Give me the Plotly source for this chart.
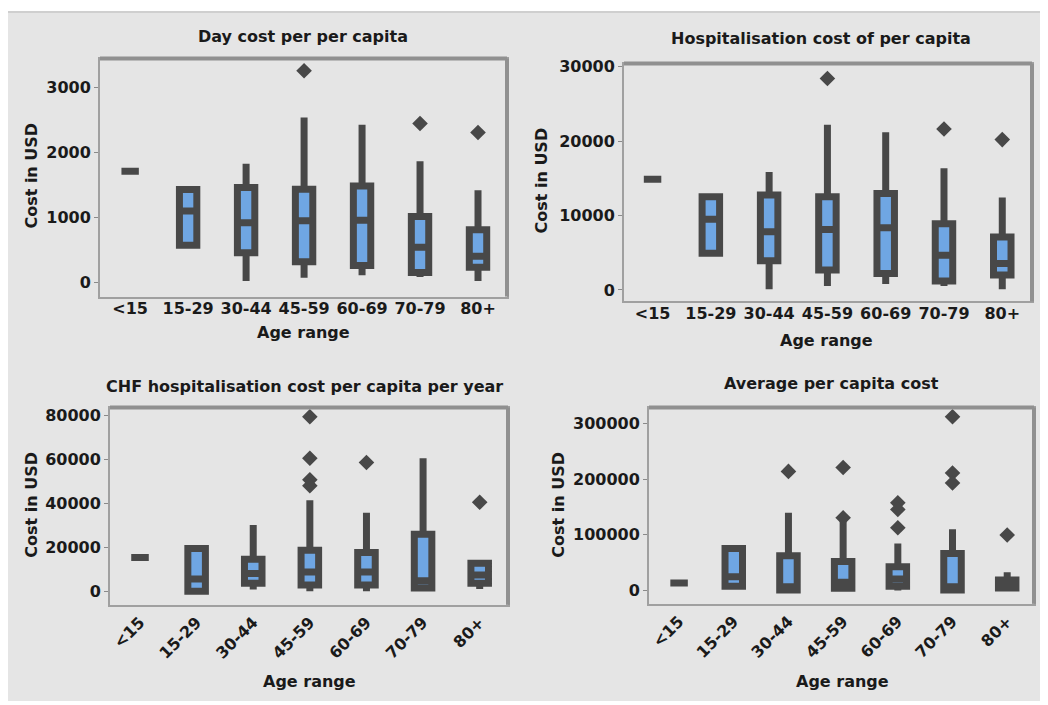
import plotly.graph_objects as go

# ---------------- data ----------------
categories = ["<15", "15-29", "30-44", "45-59", "60-69", "70-79", "80+"]

# Day cost per per capita
day_q1 = [1710, 573, 461, 320, 264, 157, 238]
day_med = [1710, 1100, 920, 950, 960, 542, 405]
day_q3 = [1710, 1430, 1460, 1434, 1485, 1014, 811]
day_lo = [1710, 573, 25, 76, 112, 86, 25]
day_hi = [1710, 1430, 1825, 2534, 2423, 1865, 1419]
day_out_x = ["45-59", "70-79", "80+"]
day_out_y = [3254, 2443, 2306]

# Hospitalisation cost of per capita
hosp_q1 = [14900, 4930, 3910, 2670, 2220, 1200, 2000]
hosp_med = [14900, 9510, 7820, 8130, 8360, 4670, 3560]
hosp_q3 = [14900, 12530, 12760, 12530, 12980, 8890, 7110]
hosp_lo = [14900, 4930, 90, 530, 800, 530, 90]
hosp_hi = [14900, 12530, 15870, 22220, 21200, 16360, 12440]
hosp_out_x = ["45-59", "70-79", "80+"]
hosp_out_y = [28440, 21640, 20220]

# CHF hospitalisation cost per capita per year
chf_q1 = [15300, 0, 3600, 2860, 2860, 1500, 3600]
chf_med = [15300, 5560, 8120, 8720, 8720, 4800, 7400]
chf_q3 = [15300, 19400, 14590, 18650, 17590, 25870, 12780]
chf_lo = [15300, 0, 750, 0, 0, 500, 1050]
chf_hi = [15300, 19400, 30080, 41350, 35640, 60450, 12780]
chf_out_x = ["45-59", "45-59", "45-59", "45-59", "60-69", "80+"]
chf_out_y = [79250, 60450, 50680, 47970, 58500, 40450]

# Average per capita cost
avg_q1 = [13700, 7700, 1200, 4160, 7700, 1200, 4750]
avg_med = [13700, 25000, 7100, 14850, 20800, 7100, 10000]
avg_q3 = [13700, 75460, 62400, 52300, 42800, 66500, 19000]
avg_lo = [13700, 7700, 1200, 4160, 0, 1200, 4750]
avg_hi = [13700, 75460, 139600, 125000, 84400, 110000, 32700]
avg_out_x = ["30-44", "45-59", "45-59", "60-69", "60-69", "60-69", "70-79", "70-79", "70-79", "80+"]
avg_out_y = [213900, 130700, 221000, 157500, 145600, 112900, 312000, 211000, 193000, 99800]

titles = ["Day cost per per capita", "Hospitalisation cost of per capita",
          "CHF hospitalisation cost per capita per year", "Average per capita cost"]

# ---------------- style ----------------
OFF_X, OFF_Y = 8, 12         # where the figure sits on the page
W, H = 1048 - OFF_X, 705 - OFF_Y
DARK = "#484848"
BLUE = "#6FA6E3"
FONT = "DejaVu Sans"
TXT = "#1a1a1a"

def px_x(v):
    return (v - OFF_X) / W

def px_y(v):
    return 1 - (v - OFF_Y) / H

fig = go.Figure()

panels = [
    dict(q1=day_q1, med=day_med, q3=day_q3, lo=day_lo, hi=day_hi, ox=day_out_x, oy=day_out_y,
         dom=(100, 507, 57, 297), yr=[-213, 3440], dt=1000, xr=[-0.52, 6.5], rot=0, w=0.30, so=-4),
    dict(q1=hosp_q1, med=hosp_med, q3=hosp_q3, lo=hosp_lo, hi=hosp_hi, ox=hosp_out_x, oy=hosp_out_y,
         dom=(624, 1032, 62, 302), yr=[-1556, 30444], dt=10000, xr=[-0.49, 6.51], rot=0, w=0.30, so=-4),
    dict(q1=chf_q1, med=chf_med, q3=chf_q3, lo=chf_lo, hi=chf_hi, ox=chf_out_x, oy=chf_out_y,
         dom=(110, 508, 409, 608), yr=[-6165, 83459], dt=20000, xr=[-0.53, 6.5], rot=-45, w=0.31, so=0),
    dict(q1=avg_q1, med=avg_med, q3=avg_q3, lo=avg_lo, hi=avg_hi, ox=avg_out_x, oy=avg_out_y,
         dom=(649, 1034, 409, 607), yr=[-23800, 328500], dt=100000, xr=[-0.55, 6.49], rot=-45, w=0.32, so=0),
]

title_pos = [(303, 35), (821, 37), (304, 388), (831, 385)]
xtitle_pos = [(303, 333), (826, 341), (309, 685), (842, 685)]
ytitle_pos = [(32, 175), (542, 180), (32, 507), (559, 507)]

annotations = []
shapes = [
    dict(type="rect", xref="paper", yref="paper", x0=px_x(7), x1=1.01, y0=-0.01, y1=px_y(10),
         fillcolor="#e5e5e5", line=dict(color="#cfcfcf", width=2), layer="below"),
]

for i, p in enumerate(panels):
    n = "" if i == 0 else str(i + 1)
    xa, ya = "x" + n, "y" + n
    fig.add_trace(go.Box(
        x=categories, q1=p["q1"], median=p["med"], q3=p["q3"],
        lowerfence=p["lo"], upperfence=p["hi"],
        xaxis=xa, yaxis=ya, width=p["w"], whiskerwidth=0,
        fillcolor=BLUE, line=dict(color=DARK, width=7),
        boxpoints=False, showlegend=False, hoverinfo="skip",
    ))
    fig.add_trace(go.Scatter(
        x=p["ox"], y=p["oy"], mode="markers", xaxis=xa, yaxis=ya,
        marker=dict(symbol="diamond", size=12, color=DARK, line=dict(width=0)),
        showlegend=False, hoverinfo="skip",
    ))
    x0, x1, y0, y1 = p["dom"]
    fig.update_layout(**{
        ("xaxis" + n): dict(
            domain=[px_x(x0), px_x(x1)], anchor=ya, type="category",
            categoryorder="array", categoryarray=categories, range=p["xr"],
            showgrid=False, zeroline=False, showline=True, mirror=True,
            linecolor="#a0a0a0", linewidth=2, ticks="", tickangle=p["rot"],
            ticklabelstandoff=p["so"],
            tickfont=dict(family=FONT, size=16, color=TXT, weight="bold"),
        ),
        ("yaxis" + n): dict(
            domain=[px_y(y1), px_y(y0)], anchor=xa, range=p["yr"],
            tickmode="linear", tick0=0, dtick=p["dt"], tickformat="d",
            showgrid=False, zeroline=False, showline=True, mirror=True,
            linecolor="#a0a0a0", linewidth=2, ticks="outside", ticklen=4,
            tickcolor="#8a8a8a", tickwidth=1,
            tickfont=dict(family=FONT, size=16, color=TXT, weight="bold"),
        ),
    })
    # heavier top and right frame edges
    shapes.append(dict(type="line", xref=f"{xa} domain", yref=f"{ya} domain",
                       x0=0, x1=1, y0=1, y1=1, line=dict(color="#909090", width=4)))
    shapes.append(dict(type="line", xref=f"{xa} domain", yref=f"{ya} domain",
                       x0=1, x1=1, y0=0, y1=1, line=dict(color="#909090", width=4)))
    tx, ty = title_pos[i]
    annotations.append(dict(text=titles[i], x=px_x(tx), y=px_y(ty), xref="paper", yref="paper",
                            showarrow=False, xanchor="center", yanchor="middle",
                            font=dict(family=FONT, size=16, color=TXT, weight="bold")))
    ax_, ay_ = xtitle_pos[i]
    annotations.append(dict(text="Age range", x=px_x(ax_), y=px_y(ay_), xref="paper", yref="paper",
                            showarrow=False, xanchor="center", yanchor="middle",
                            font=dict(family=FONT, size=16, color=TXT, weight="bold")))
    yx, yy = ytitle_pos[i]
    annotations.append(dict(text="Cost in USD", x=px_x(yx), y=px_y(yy), xref="paper", yref="paper",
                            showarrow=False, xanchor="center", yanchor="middle", textangle=-90,
                            font=dict(family=FONT, size=16, color=TXT, weight="bold")))

fig.update_layout(
    width=W, height=H, margin=dict(l=0, r=0, t=0, b=0),
    paper_bgcolor="white", plot_bgcolor="white",
    annotations=annotations, shapes=shapes, showlegend=False,
)

fig.write_html("out.html")
